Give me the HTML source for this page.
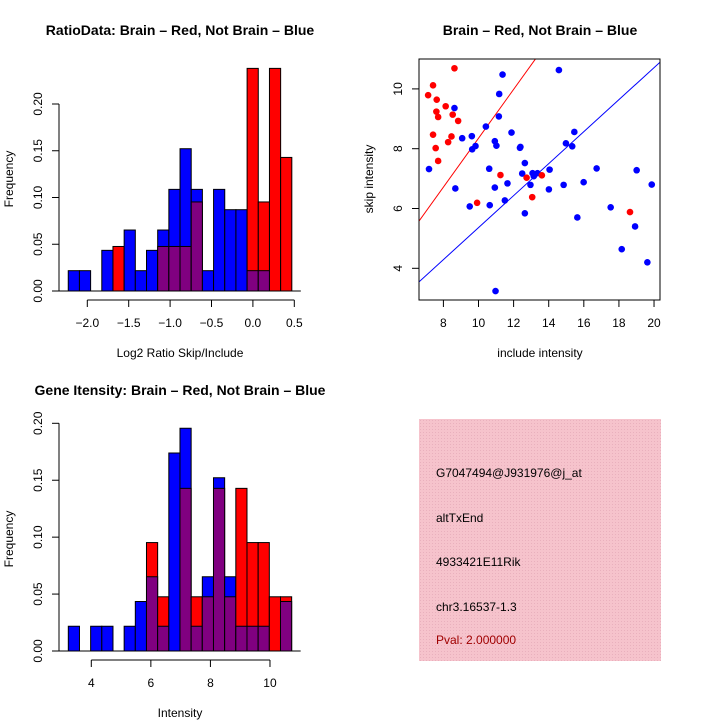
<!DOCTYPE html>
<html><head><meta charset="utf-8"><style>
html,body{margin:0;padding:0;background:#fff;}
svg{display:block;font-family:"Liberation Sans",sans-serif;}
</style></head><body>
<svg id="c" width="720" height="720" viewBox="0 0 720 720">
<defs>
<pattern id="hatch" width="3" height="3" patternUnits="userSpaceOnUse">
<rect width="3" height="3" fill="#f6c3cc"/><rect width="1" height="1" fill="#e9b0bd"/>
</pattern>
</defs>
<text x="180" y="35" text-anchor="middle" font-size="14" font-weight="bold">RatioData: Brain – Red, Not Brain – Blue</text>
<text x="540" y="35" text-anchor="middle" font-size="14" font-weight="bold">Brain – Red, Not Brain – Blue</text>
<text x="180" y="395" text-anchor="middle" font-size="14" font-weight="bold">Gene Itensity: Brain – Red, Not Brain – Blue</text>
<g id="h1"></g>
<g id="sc"></g>
<g id="h2"></g>
<g>
<rect x="419" y="419" width="242" height="242" fill="url(#hatch)"/>
<text x="436" y="477" font-size="12">G7047494@J931976@j_at</text>
<text x="436" y="522" font-size="12">altTxEnd</text>
<text x="436" y="566" font-size="12">4933421E11Rik</text>
<text x="436" y="611" font-size="12">chr3.16537-1.3</text>
<text x="436" y="644" font-size="12" fill="#a00000">Pval: 2.000000</text>
</g>
</svg>
<script>
// Ratio histogram data
const ratioStart = -2.23;
const ratioWidth = 0.135;
const ratioBlueCounts = [1,1,0,2,0,3,1,2,3,5,7,5,1,5,4,4,1,1,0,0];
const ratioRedCounts  = [0,0,0,0,1,0,0,0,1,1,1,2,0,0,0,0,5,2,5,3];
const ratioXTicks = [-2.0,-1.5,-1.0,-0.5,0.0,0.5];
const ratioYTicks = [0,0.05,0.10,0.15,0.20];
// Intensity histogram data
const intStart = 3.228;
const intWidth = 0.375;
const intBlueCounts = [1,0,1,1,0,1,2,3,1,8,9,1,3,7,3,1,1,1,0,2];
const intRedCounts  = [0,0,0,0,0,0,0,2,1,0,3,1,1,3,1,3,2,2,1,1];
const intXTicks = [4,6,8,10];
const intYTicks = [0,0.05,0.10,0.15,0.20];
// Scatter data
const redX = [7.13,7.41,8.63,7.62,7.60,7.70,8.13,8.53,8.84,7.41,8.46,8.27,7.56,7.70,9.92,11.25,12.74,13.61,13.06,18.63];
const redY = [9.79,10.12,10.69,9.64,9.24,9.06,9.42,9.14,8.93,8.47,8.41,8.22,8.02,7.59,6.19,7.12,7.03,7.11,6.38,5.88];
const blueX = [7.18,8.63,9.07,9.62,9.64,9.83,8.68,9.50,10.42,10.93,11.02,11.18,11.16,11.37,10.61,10.93,10.64,11.50,11.65,11.88,10.97,12.36,12.39,12.64,12.49,12.64,12.96,13.08,13.15,13.36,14.05,14.01,14.58,14.85,14.98,15.34,15.46,15.63,15.99,16.73,17.53,18.16,18.92,19.01,19.62,19.87];
const blueY = [7.32,9.36,8.35,8.42,7.98,8.09,6.67,6.07,8.74,8.25,8.10,9.83,9.08,10.48,7.33,6.70,6.11,6.27,6.84,8.54,3.24,8.03,8.06,7.52,7.17,5.84,6.79,7.18,7.08,7.18,7.30,6.64,10.63,6.79,8.18,8.08,8.56,5.70,6.88,7.34,6.04,4.64,5.40,7.28,4.20,6.80];
const lineRed = [0.18, 0.817];
const lineBlue = [0.01, 0.535];
const scXTicks = [8,10,12,14,16,18,20];
const scYTicks = [4,6,8,10];

const NS = "http://www.w3.org/2000/svg";
function mk(parent, tag, attrs, text) {
  const e = document.createElementNS(NS, tag);
  for (const k in attrs) e.setAttribute(k, attrs[k]);
  if (text !== undefined) e.textContent = text;
  parent.appendChild(e);
  return e;
}

function hist(g, start, width, blue, red, xTicks, yTicks, geom, xlab) {
  const nb = blue.reduce((a,b)=>a+b,0), nr = red.reduce((a,b)=>a+b,0);
  const X = v => geom.x0px + (v - geom.x0) * geom.xs;
  const Y = v => geom.y0px - v * geom.ys;
  for (let i = 0; i < blue.length; i++) {
    const fb = blue[i]/nb, fr = red[i]/nr;
    const x1 = X(start + i*width), x2 = X(start + (i+1)*width);
    const order = fb >= fr ? [[fb,'#0000ff','blue'],[fr,'#ff0000','red']] : [[fr,'#ff0000','red'],[fb,'#0000ff','blue']];
    const hi = order[0], lo = order[1];
    if (hi[0] > 0) {
      const r = mk(g,'rect',{x:x1,y:Y(hi[0]),width:x2-x1,height:Y(0)-Y(hi[0]),fill:hi[1],stroke:'#000','stroke-width':1});
      
      
    }
    if (lo[0] > 0) {
      const r = mk(g,'rect',{x:x1,y:Y(lo[0]),width:x2-x1,height:Y(0)-Y(lo[0]),fill:'#800080',stroke:'#000','stroke-width':1});
      
      
    }
  }
  const base = mk(g,'line',{x1:geom.ax-7,x2:X(start+blue.length*width)+9,y1:Y(0),y2:Y(0),stroke:'#000'});
  
  
  const ya = mk(g,'line',{x1:geom.ax,x2:geom.ax,y1:Y(yTicks[0]),y2:Y(yTicks[yTicks.length-1]),stroke:'#000'});
  
  
  yTicks.forEach(t => {
    mk(g,'line',{x1:geom.ax-7,x2:geom.ax,y1:Y(t),y2:Y(t),stroke:'#000'});
    const tx = mk(g,'text',{x:0,y:0,transform:`translate(${geom.ax-17},${Y(t)}) rotate(-90)`,'text-anchor':'middle','font-size':12},t.toFixed(2));
    
    
  });
  const xa = mk(g,'line',{x1:X(xTicks[0]),x2:X(xTicks[xTicks.length-1]),y1:geom.axy,y2:geom.axy,stroke:'#000'});
  
  
  xTicks.forEach(t => {
    mk(g,'line',{x1:X(t),x2:X(t),y1:geom.axy,y2:geom.axy+7,stroke:'#000'});
    const tx = mk(g,'text',{x:X(t),y:geom.axy+27,'text-anchor':'middle','font-size':12},geom.dec ? t.toFixed(1).replace('-','\u2212') : String(t));
    
    
  });
  const xl = mk(g,'text',{x:geom.xlx,y:geom.axy+57,'text-anchor':'middle','font-size':12},xlab);
  
  
  const yl = mk(g,'text',{x:0,y:0,transform:`translate(13,${geom.yly}) rotate(-90)`,'text-anchor':'middle','font-size':12},'Frequency');
  
  
}

hist(document.getElementById('h1'), ratioStart, ratioWidth, ratioBlueCounts, ratioRedCounts, ratioXTicks, ratioYTicks,
  {x0:-2.0, x0px:87.3, xs:82.8, y0px:291, ys:935, ax:59, axy:300, dec:true, xlx:180, yly:179}, 'Log2 Ratio Skip/Include');
hist(document.getElementById('h2'), intStart, intWidth, intBlueCounts, intRedCounts, intXTicks, intYTicks,
  {x0:4, x0px:91.3, xs:29.78, y0px:651, ys:1138.5, ax:59, axy:660, dec:false, xlx:180, yly:539}, 'Intensity');

// scatter
(function(){
  const g = document.getElementById('sc');
  const L=419, R=660, T=59, B=300;
  const xmin=6.61, xmax=20.34, ymin=2.94, ymax=11.0;
  const X = v => L + (v-xmin)/(xmax-xmin)*(R-L);
  const Y = v => B - (v-ymin)/(ymax-ymin)*(B-T);
  const cp = mk(g,'clipPath',{id:'scclip'});
  mk(cp,'rect',{x:L,y:T,width:R-L,height:B-T});
  [[lineRed,'#ff0000','red-fit-line'],[lineBlue,'#0000ff','blue-fit-line']].forEach(([ab,col,nm])=>{
    const l = mk(g,'line',{x1:X(xmin),y1:Y(ab[0]+ab[1]*xmin),x2:X(xmax),y2:Y(ab[0]+ab[1]*xmax),stroke:col,'stroke-width':1,'clip-path':'url(#scclip)'});
    
    
  });
  blueX.forEach((x,i)=>{
    const c = mk(g,'circle',{cx:X(x),cy:Y(blueY[i]),r:3.3,fill:'#0000ff'});
    
    
  });
  redX.forEach((x,i)=>{
    const c = mk(g,'circle',{cx:X(x),cy:Y(redY[i]),r:3.3,fill:'#ff0000'});
    
    
  });
  const box = mk(g,'rect',{x:L,y:T,width:R-L,height:B-T,fill:'none',stroke:'#000'});
  
  
  scXTicks.forEach(t=>{
    mk(g,'line',{x1:X(t),x2:X(t),y1:B,y2:B+7,stroke:'#000'});
    const tx = mk(g,'text',{x:X(t),y:B+27,'text-anchor':'middle','font-size':12},String(t));
    
    
  });
  scYTicks.forEach(t=>{
    mk(g,'line',{x1:L-7,x2:L,y1:Y(t),y2:Y(t),stroke:'#000'});
    const tx = mk(g,'text',{x:0,y:0,transform:`translate(${L-17},${Y(t)}) rotate(-90)`,'text-anchor':'middle','font-size':12},String(t));
    
    
  });
  const xl = mk(g,'text',{x:540,y:357,'text-anchor':'middle','font-size':12},'include intensity');
  
  
  const yl = mk(g,'text',{x:0,y:0,transform:`translate(373,179) rotate(-90)`,'text-anchor':'middle','font-size':12},'skip intensity');
  
  
})();
</script>
</body></html>
